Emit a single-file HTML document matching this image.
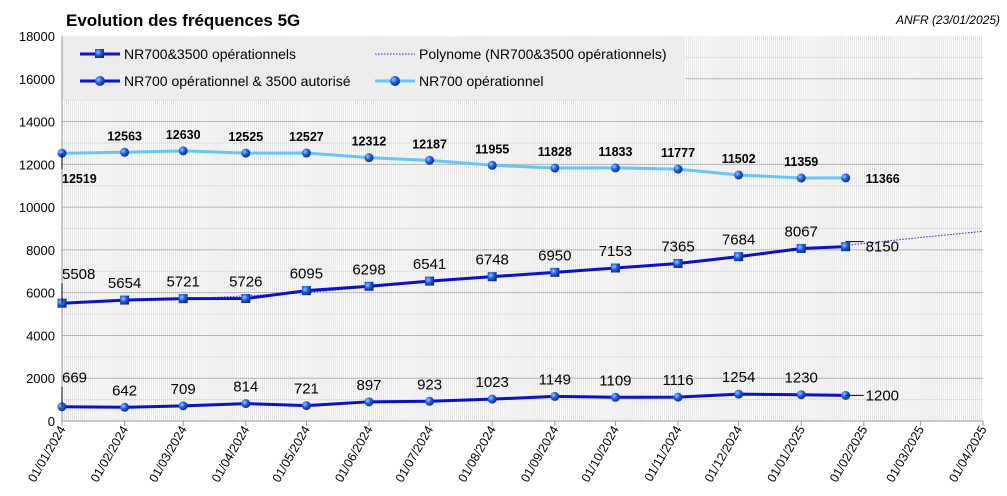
<!DOCTYPE html>
<html><head><meta charset="utf-8"><style>
body{margin:0;background:#fff;}
svg{display:block;font-family:"Liberation Sans",sans-serif;}
</style></head><body>
<svg id="c" width="1007" height="496">
<defs>
<pattern id="stripes" width="2.02" height="10" patternUnits="userSpaceOnUse" x="62">
<rect width="2.02" height="10" fill="#fff"/><rect width="1" height="10" fill="#e2e2e2"/>
</pattern>
<radialGradient id="ball" cx="0.35" cy="0.35" r="0.7"><stop offset="0" stop-color="#9fc4ff"/><stop offset="0.5" stop-color="#1d5fd6"/><stop offset="1" stop-color="#0a2a8a"/></radialGradient>
</defs>
<text x="66" y="26" font-size="17" font-weight="bold">Evolution des fréquences 5G</text>
<text x="1000" y="24" font-size="12" font-style="italic" text-anchor="end">ANFR (23/01/2025)</text>
<g id="plot"></g>
</svg>
<script>
const monthLabels=["01/01/2024","01/02/2024","01/03/2024","01/04/2024","01/05/2024","01/06/2024","01/07/2024","01/08/2024","01/09/2024","01/10/2024","01/11/2024","01/12/2024","01/01/2025","01/02/2025","01/03/2025","01/04/2025"];
const pointDates=["2024-01-01","2024-02-01","2024-03-01","2024-04-01","2024-05-01","2024-06-01","2024-07-01","2024-08-01","2024-09-01","2024-10-01","2024-11-01","2024-12-01","2025-01-01","2025-01-23"];
const nr700op=[12519,12563,12630,12525,12527,12312,12187,11955,11828,11833,11777,11502,11359,11366];
const nr700auth=[5508,5654,5721,5726,6095,6298,6541,6748,6950,7153,7365,7684,8067,8150];
const nr700and3500=[669,642,709,814,721,897,923,1023,1149,1109,1116,1254,1230,1200];
const trendDates=["2024-01-01","2024-03-01","2024-05-01","2024-07-01","2024-09-01","2024-11-01","2025-01-01","2025-02-01","2025-03-01","2025-04-01"];
const trendVals=[5520,5700,6000,6500,6950,7400,8000,8300,8580,8870];
const yTicks=[0,2000,4000,6000,8000,10000,12000,14000,16000,18000];

const NS="http://www.w3.org/2000/svg";
const svg=document.getElementById('plot');
const X0=62,X1=983,Y0=421,Y1=36;
const d0=Date.UTC(2024,0,1),dEnd=Date.UTC(2025,3,1);
function dms(s){const p=s.split('-');return Date.UTC(+p[0],+p[1]-1,+p[2]);}
function xs(ms){return X0+(ms-d0)/(dEnd-d0)*(X1-X0);}
function ys(v){return Y0-v/18000*(Y0-Y1);}
function el(t,a,p){const e=document.createElementNS(NS,t);for(const k in a)e.setAttribute(k,a[k]);(p||svg).appendChild(e);return e;}

let bg=el('rect',{x:X0,y:Y1,width:X1-X0,height:Y0-Y1,fill:'url(#stripes)'});


for(let v=1000;v<18000;v+=1000){
  const g=el('line',{x1:X0,x2:X1,y1:ys(v),y2:ys(v),stroke:v%2000?'#dcdcdc':'#b4b4b4','stroke-width':1});
  
  
}
yTicks.forEach(v=>{
  const t=el('text',{x:55,y:ys(v)+5,'font-size':13,'text-anchor':'end'});t.textContent=v;
  
  
});
el('line',{x1:X0,x2:X0,y1:Y1,y2:Y0,stroke:'#999'});
el('line',{x1:X0,x2:X1,y1:Y0,y2:Y0,stroke:'#999'});
monthLabels.forEach(l=>{
  const p=l.split('/');const x=xs(Date.UTC(+p[2],+p[1]-1,+p[0]));
  el('line',{x1:x,x2:x,y1:Y0,y2:Y0+5,stroke:'#999'});
  const t=el('text',{x:x+4,y:Y0+8,'font-size':12.5,'text-anchor':'end',transform:`rotate(-60 ${x+4} ${Y0+8})`});t.textContent=l;
  
  
});
// legend
const lg=el('rect',{x:63,y:37,width:622,height:63,fill:'#ececec'});


function legendEntry(x,y,color,w,marker,label,dotted){
  el('line',{x1:x,x2:x+40,y1:y,y2:y,stroke:color,'stroke-width':w,'stroke-dasharray':dotted?'1.5 1.5':'none'});
  if(marker==='sq')el('rect',{x:x+15,y:y-5,width:9,height:9,fill:'url(#ball)'});
  if(marker==='ball')el('circle',{cx:x+20,cy:y,r:5,fill:'url(#ball)'});
  const t=el('text',{x:x+44,y:y+5,'font-size':14});t.textContent=label;
  
  
}
legendEntry(80,54,'#0a12c8',3,'sq','NR700&3500 opérationnels');
legendEntry(80,81,'#0a12c8',3,'ball','NR700 opérationnel & 3500 autorisé');
legendEntry(375,54,'#2a2ae0',1,null,'Polynome (NR700&3500 opérationnels)',true);
legendEntry(375,81,'#66c6f4',3,'ball','NR700 opérationnel');

// trend
let tp=trendDates.map((d,i)=>xs(dms(d))+','+ys(trendVals[i])).join(' ');
const tr=el('polyline',{points:tp,fill:'none',stroke:'#2a2ae0','stroke-width':1,'stroke-dasharray':'1.5 1.5'});



function series(vals,color,marker,name,labelSize,bold,below0){
  const pts=vals.map((v,i)=>[xs(dms(pointDates[i])),ys(v)]);
  const pl=el('polyline',{points:pts.map(p=>p.join(',')).join(' '),fill:'none',stroke:color,'stroke-width':3});
  
  
  pts.forEach((p,i)=>{
    let m;
    if(marker==='sq')m=el('rect',{x:p[0]-4.5,y:p[1]-4.5,width:9,height:9,fill:'url(#ball)'});
    else m=el('circle',{cx:p[0],cy:p[1],r:4.5,fill:'url(#ball)'});
    
    
    let lx=p[0],ly=p[1]-12,anchor='middle';
    if(i===0){lx=p[0];anchor='start';ly=below0?p[1]+30:p[1]-24;el('line',{x1:p[0],x2:p[0],y1:p[1],y2:below0?p[1]+16:p[1]-20,stroke:'#000'});}
    if(i===vals.length-1){lx=p[0]+20;ly=p[1]+5;anchor='start';if(!below0)el('line',{x1:p[0],x2:p[0]+18,y1:p[1]-(marker==='sq'?5:0),y2:p[1]-(marker==='sq'?5:0),stroke:'#000'});}
    const t=el('text',{x:lx,y:ly,'font-size':labelSize,'font-weight':bold?'bold':'normal','text-anchor':anchor});
    t.textContent=vals[i];
    
    
  });
}
series(nr700op,'#66c6f4','ball','nr700-op',12.5,true,true);
series(nr700auth,'#0a12c8','sq','nr700-auth',15,false,false);
series(nr700and3500,'#0a12c8','ball','nr700-3500',15,false,false);
</script>
</body></html>
